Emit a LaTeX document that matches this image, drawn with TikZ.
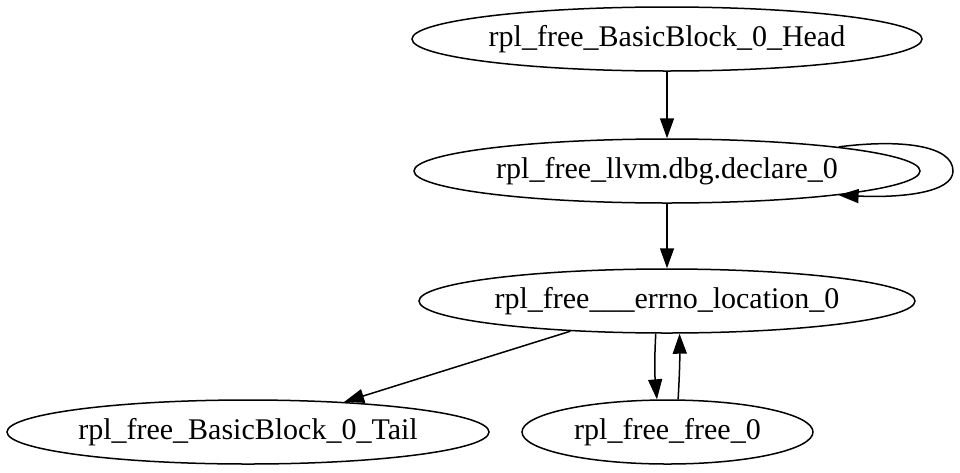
\documentclass[tikz,border=0pt]{standalone}
\usepackage{fontspec}
\setmainfont{Liberation Serif}
\usetikzlibrary{shapes.geometric,arrows.meta}
\tikzset{
  gnode/.style={ellipse, draw, line width=1.5pt, inner sep=0pt, minimum height=64pt,
    font=\fontsize{30}{36}\selectfont},
  gedge/.style={line width=1.5pt, -{Triangle[length=20pt,width=14pt]}}
}
\begin{document}
\begin{tikzpicture}[x=1pt,y=-1pt]
\useasboundingbox (0,0) rectangle (960,472);
\node[gnode, minimum width=510pt] (head) at (667,39) {rpl\_free\_BasicBlock\_0\_Head};
\node[gnode, minimum width=506pt] (decl) at (667,171) {rpl\_free\_llvm.dbg.declare\_0};
\node[gnode, minimum width=496pt] (errno) at (667,301) {rpl\_free\_\_\_errno\_location\_0};
\node[gnode, minimum width=482pt] (tail) at (248,432) {rpl\_free\_BasicBlock\_0\_Tail};
\node[gnode, minimum width=291pt] (free) at (667.5,432) {rpl\_free\_free\_0};
\draw[gedge] (head) -- (decl);
\draw[gedge] (decl) -- (errno);
\draw[gedge] (decl.8) .. controls (900,139) and (953,145) .. (953,171)
  .. controls (953,193) and (900,198) .. (decl.-8);
\draw[gedge] (errno) -- (tail);
\draw[gedge] (errno.251) to[bend right=4] (free.108);
\draw[gedge] (free.72) to[bend right=2] (errno.291);
\end{tikzpicture}
\end{document}
